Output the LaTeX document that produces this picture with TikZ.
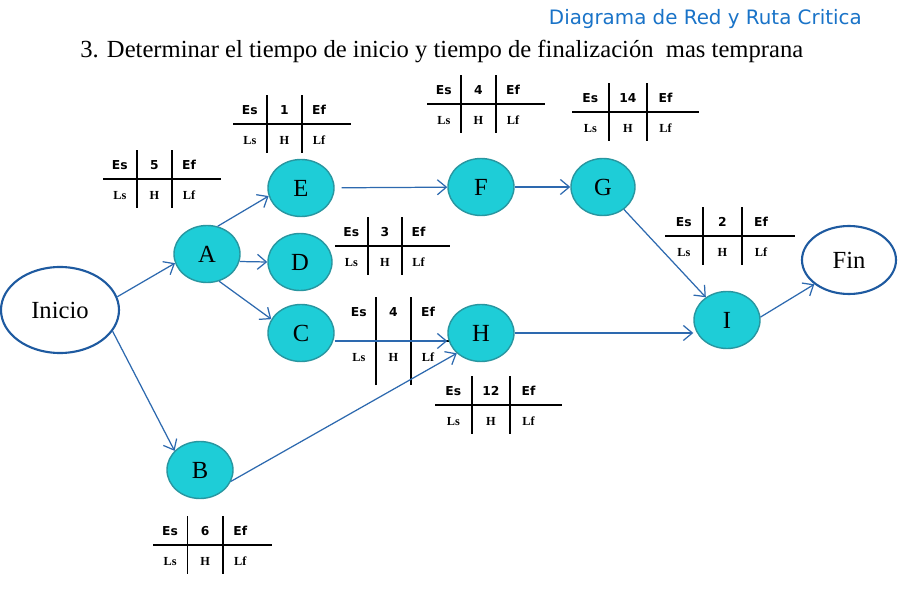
\documentclass[tikz,border=0pt]{standalone}
\usepackage{fontspec}
\setmainfont{Liberation Serif}
\setsansfont{DejaVu Sans}
\usepackage{array}
\usetikzlibrary{arrows.meta, positioning, shapes.geometric}

\definecolor{turquesa}{RGB}{30,205,215}
\definecolor{bordeturq}{RGB}{40,150,160}
\definecolor{azulflecha}{RGB}{45,105,175}
\definecolor{azuloscuro}{RGB}{30,90,160}
\definecolor{azultitulo}{RGB}{25,115,200}

\setlength{\arrayrulewidth}{0.9pt}
\setlength{\tabcolsep}{0pt}
\newlength{\holgura}
\setlength{\holgura}{0pt}
\newcommand{\tiempos}[2][0.66cm]{%
  \begin{tabular}{@{}w{c}{#1}|w{c}{#1}|w{c}{#1}@{\hspace{0.3cm}}}
    \sffamily\bfseries Es & \sffamily\bfseries #2 & \sffamily\bfseries Ef\rule[-\holgura]{0pt}{0pt}\\ \hline
    \bfseries Ls & \bfseries H & \bfseries Lf\rule[-\holgura]{0pt}{0pt}
  \end{tabular}}

\begin{document}
\begin{tikzpicture}[
  actividad/.style={
    ellipse,
    draw=bordeturq,
    line width=0.8pt,
    fill=turquesa,
    minimum width=1.32cm,
    minimum height=1.14cm,
    inner sep=0pt,
    font=\fontsize{14}{16}\selectfont
  },
  extremo/.style={
    ellipse,
    draw=azuloscuro,
    line width=1.2pt,
    fill=white,
    inner sep=0pt,
    font=\fontsize{14}{16}\selectfont
  },
  tabla/.style={
    anchor=west,
    inner sep=0pt,
    font=\fontsize{7}{8.5}\selectfont,
    execute at begin node={\def\arraystretch{1.87}}
  },
  flecha/.style={-{Straight Barb[length=1.8mm, width=3mm]}, line width=0.7pt, draw=azulflecha}
]

\fill[white] (0,0) rectangle (18,12);
\useasboundingbox (0,0) rectangle (18,12);

% titulos
\node[anchor=east, inner sep=0pt, text=azultitulo, font=\sffamily\fontsize{11.3}{13}\selectfont] (encabezado) at (17.24,11.62) {Diagrama de Red y Ruta Critica};
\node[anchor=base west, inner sep=0pt, font=\fontsize{14}{16}\selectfont] (titulo) at (1.6,10.84) {3. Determinar el tiempo de inicio y tiempo de finalización\ \ mas temprana};

% tablas de tiempos
\node[tabla] (tA) at (2.06,8.42) {\tiempos{5}};
\node[tabla] (tE) at (4.66,9.52) {\tiempos{1}};
\node[tabla] (tF) at (8.54,9.92) {\tiempos{4}};
\node[tabla] (tG) at (11.44,9.76) {\tiempos[0.72cm]{14}};
\node[tabla] (tD) at (6.70,7.08) {\tiempos[0.64cm]{3}};
\node[tabla, execute at begin node={\setlength{\holgura}{13.5pt}}] (tC) at (6.84,5.18) {\tiempos{4}};
\node[tabla] (tH) at (8.70,3.90) {\tiempos[0.72cm]{12}};
\node[tabla] (tI) at (13.30,7.28) {\tiempos[0.74cm]{2}};
\node[tabla] (tB) at (3.06,1.10) {\tiempos[0.67cm]{6}};

% nodos
\node[extremo, minimum width=2.36cm, minimum height=1.72cm] (inicio) at (1.2,5.8) {Inicio};
\node[actividad] (A) at (4.14,6.92) {A};
\node[actividad] (E) at (6.02,8.24) {E};
\node[actividad, minimum width=1.28cm] (D) at (6.0,6.76) {D};
\node[actividad] (C) at (6.02,5.34) {C};
\node[actividad] (B) at (4.0,2.6) {B};
\node[actividad] (F) at (9.62,8.26) {F};
\node[actividad, minimum width=1.28cm] (G) at (12.06,8.26) {G};
\node[actividad] (H) at (9.62,5.34) {H};
\node[actividad] (I) at (14.54,5.6) {I};
\node[extremo, minimum width=1.88cm, minimum height=1.36cm] (fin) at (16.98,6.8) {Fin};

% conexiones
\draw[flecha] (inicio.13) -- (A.196);
\draw[flecha] (inicio.-22) -- (B.143);
\draw[flecha] (A.69) -- (E.194);
\draw[flecha] (A.-13) -- (D.west);
\draw[flecha] (A.-66) -- (C.155);
\draw[flecha, shorten <=0.14cm] (E) -- (F);
\draw[flecha] (F) -- (G);
\draw[flecha] (G) -- (I);
\draw[flecha] ([yshift=-0.16cm]C.east) -- ([yshift=-0.16cm]H.west);
\draw[flecha] (B.-20) -- (H.220);
\draw[flecha] (H.east) -- (H.east -| I.west);
\draw[flecha] (I.5) -- (fin.215);

\end{tikzpicture}
\end{document}
